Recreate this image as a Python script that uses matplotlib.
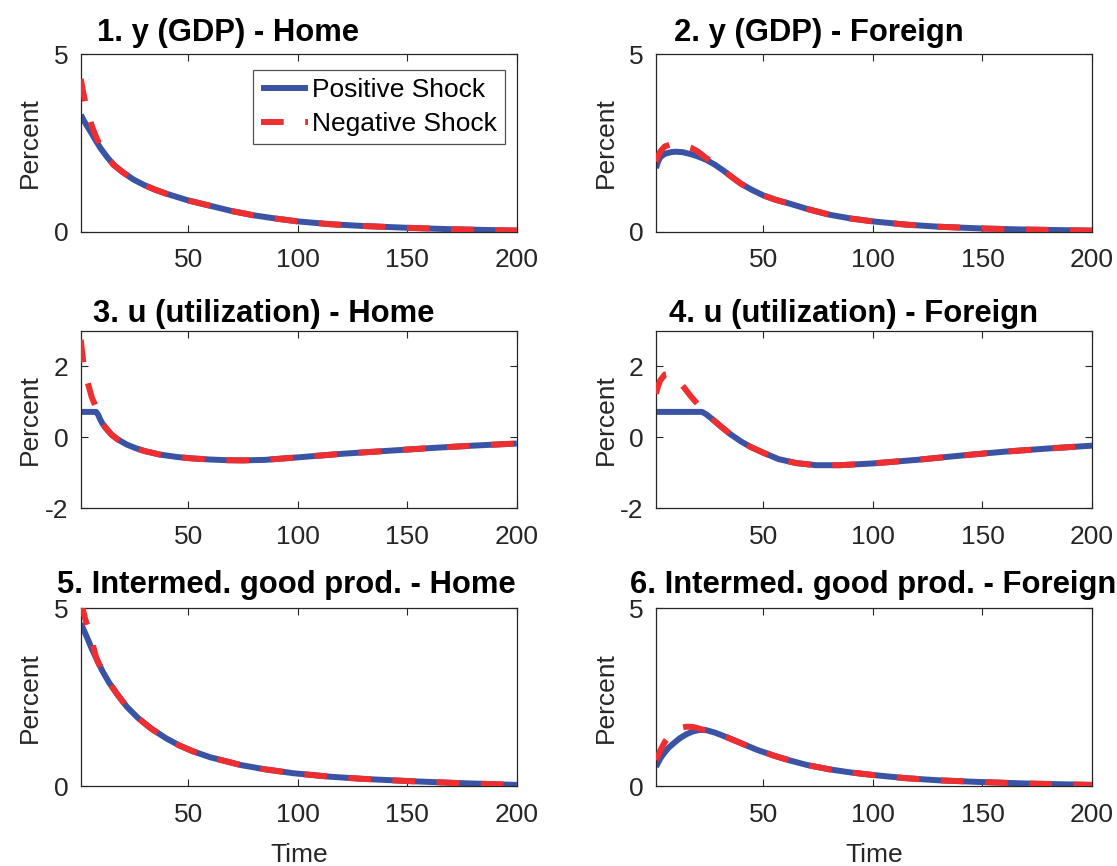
import matplotlib
matplotlib.use("Agg")
import matplotlib.pyplot as plt

plt.rcParams["font.family"] = ["Liberation Sans", "DejaVu Sans"]
plt.rcParams["axes.unicode_minus"] = False

BLUE = "#3a53a4"
RED = "#ee2e2f"

# ---- data ----
# 1. y (GDP) - Home
x1 = [1, 2, 3, 4, 6, 8, 10, 13, 16, 20, 25, 30, 35, 40, 50, 60, 70, 80, 90, 100, 115, 130, 150, 170, 185, 200]
pos1 = [3.29, 3.17, 3.06, 2.96, 2.76, 2.55, 2.35, 2.10, 1.88, 1.68, 1.47, 1.31, 1.18, 1.07, 0.88, 0.73, 0.58, 0.46, 0.37, 0.29, 0.21, 0.16, 0.11, 0.07, 0.05, 0.03]
neg1 = [4.30, 3.95, 3.66, 3.40, 2.98, 2.66, 2.40, 2.12, 1.88, 1.68, 1.47, 1.31, 1.18, 1.07, 0.88, 0.73, 0.58, 0.46, 0.37, 0.29, 0.21, 0.16, 0.11, 0.07, 0.05, 0.03]

# 2. y (GDP) - Foreign
x2 = [1, 2, 3, 5, 8, 10, 13, 17, 20, 24, 28, 32, 36, 40, 45, 50, 56, 62, 70, 80, 90, 100, 115, 130, 150, 170, 200]
pos2 = [1.79, 1.98, 2.10, 2.19, 2.24, 2.25, 2.24, 2.18, 2.12, 2.02, 1.88, 1.71, 1.52, 1.34, 1.17, 1.02, 0.89, 0.79, 0.64, 0.48, 0.37, 0.29, 0.20, 0.14, 0.09, 0.06, 0.03]
neg2 = [1.97, 2.13, 2.26, 2.40, 2.46, 2.46, 2.43, 2.36, 2.26, 2.07, 1.90, 1.71, 1.52, 1.34, 1.17, 1.02, 0.89, 0.79, 0.64, 0.48, 0.37, 0.29, 0.20, 0.14, 0.09, 0.06, 0.03]

# 3. u (utilization) - Home
x3 = [1, 2, 3, 4, 6, 8, 9, 10, 11, 12, 15, 18, 22, 26, 30, 37, 45, 52, 60, 68, 75, 85, 100, 120, 140, 160, 180, 200]
pos3 = [0.71, 0.71, 0.71, 0.71, 0.71, 0.71, 0.62, 0.48, 0.37, 0.28, 0.07, -0.07, -0.21, -0.31, -0.39, -0.49, -0.56, -0.60, -0.63, -0.65, -0.655, -0.64, -0.57, -0.47, -0.39, -0.31, -0.24, -0.18]
neg3 = [2.74, 2.18, 1.80, 1.57, 1.12, 0.83, 0.68, 0.52, 0.39, 0.29, 0.07, -0.07, -0.21, -0.31, -0.39, -0.49, -0.56, -0.60, -0.63, -0.65, -0.655, -0.64, -0.57, -0.47, -0.39, -0.31, -0.24, -0.18]

# 4. u (utilization) - Foreign
x4 = [1, 2, 3, 5, 7, 9, 11, 14, 17, 20, 22, 24, 27, 31, 35, 40, 44, 50, 57, 65, 74, 85, 100, 120, 140, 160, 180, 200]
pos4 = [0.71, 0.71, 0.71, 0.71, 0.71, 0.71, 0.71, 0.71, 0.71, 0.71, 0.71, 0.64, 0.49, 0.28, 0.08, -0.13, -0.27, -0.44, -0.62, -0.73, -0.79, -0.79, -0.74, -0.64, -0.52, -0.41, -0.32, -0.24]
neg4 = [1.22, 1.45, 1.60, 1.76, 1.78, 1.72, 1.60, 1.38, 1.14, 0.93, 0.79, 0.66, 0.49, 0.28, 0.08, -0.13, -0.27, -0.44, -0.62, -0.73, -0.79, -0.79, -0.74, -0.64, -0.52, -0.41, -0.32, -0.24]

# 5. Intermed. good prod. - Home
x5 = [1, 2, 3, 4.4, 6, 8, 9, 11, 14, 18, 22, 27, 33, 40, 46, 52, 60, 67, 74, 85, 98, 115, 130, 150, 170, 185, 200]
pos5 = [4.58, 4.44, 4.30, 4.10, 3.86, 3.60, 3.47, 3.22, 2.90, 2.55, 2.23, 1.92, 1.62, 1.34, 1.14, 0.98, 0.81, 0.70, 0.59, 0.47, 0.36, 0.26, 0.20, 0.14, 0.09, 0.06, 0.03]
neg5 = [5.15, 4.95, 4.70, 4.44, 4.08, 3.62, 3.47, 3.22, 2.90, 2.55, 2.23, 1.92, 1.62, 1.34, 1.14, 0.98, 0.81, 0.70, 0.59, 0.47, 0.36, 0.26, 0.20, 0.14, 0.09, 0.06, 0.03]

# 6. Intermed. good prod. - Foreign
x6 = [1, 3, 5, 7, 9, 12, 15, 18, 21, 24, 28, 33, 40, 47, 55, 62, 70, 80, 90, 100, 115, 130, 150, 170, 185, 200]
pos6 = [0.54, 0.78, 0.95, 1.09, 1.20, 1.35, 1.46, 1.54, 1.58, 1.57, 1.50, 1.38, 1.20, 1.02, 0.85, 0.72, 0.59, 0.47, 0.38, 0.31, 0.22, 0.16, 0.11, 0.07, 0.05, 0.03]
neg6 = [0.73, 1.00, 1.24, 1.40, 1.52, 1.63, 1.67, 1.66, 1.61, 1.56, 1.50, 1.38, 1.20, 1.02, 0.85, 0.72, 0.59, 0.47, 0.38, 0.31, 0.22, 0.16, 0.11, 0.07, 0.05, 0.03]

titles = ["1. y (GDP) - Home", "2. y (GDP) - Foreign",
          "3. u (utilization) - Home", "4. u (utilization) - Foreign",
          "5. Intermed. good prod. - Home", "6. Intermed. good prod. - Foreign"]
series = [(x1, pos1, neg1), (x2, pos2, neg2), (x3, pos3, neg3),
          (x4, pos4, neg4), (x5, pos5, neg5), (x6, pos6, neg6)]
ylims = [(0, 5), (0, 5), (-2, 3), (-2, 3), (0, 5), (0, 5)]
yticks = [[0, 5], [0, 5], [-2, 0, 2], [-2, 0, 2], [0, 5], [0, 5]]
xticks = [50, 100, 150, 200]

# ---- layout ----
W, H = 1117, 866
fig = plt.figure(figsize=(W / 100, H / 100), dpi=100)
lefts = [80.8, 656.0]
tops = [54.0, 330.5, 608.3]
aw, ah = 436.0, 177.7
title_x = [0.3375, 0.373, 0.420, 0.452, 0.4705, 0.498]
title_y = [1.073, 1.073, 1.05, 1.05, 1.085, 1.085]

for i in range(6):
    r, c = divmod(i, 2)
    ax = fig.add_axes([lefts[c] / W, 1 - (tops[r] + ah) / H, aw / W, ah / H])
    x, p, n = series[i]
    ax.plot(x, p, color=BLUE, lw=4.3, solid_capstyle="butt", label="Positive Shock", zorder=2)
    ax.plot(x, n, color=RED, lw=4.3, linestyle=(0, (3.8, 3.6)), label="Negative Shock", zorder=3)
    ax.set_xlim(1, 200)
    ax.set_ylim(*ylims[i])
    ax.set_xticks(xticks)
    ax.set_yticks(yticks[i])
    ax.tick_params(direction="in", length=5, width=0.8, top=True, right=True,
                   labelsize=19, colors="#262626")
    ax.tick_params(axis="x", pad=12)
    ax.tick_params(axis="y", pad=9)
    for s in ax.spines.values():
        s.set_color("#262626")
        s.set_linewidth(0.9)
    ax.set_ylabel("Percent", fontsize=19, color="#262626", va="center")
    ax.yaxis.set_label_coords(-0.116, 0.5)
    if r == 2:
        ax.set_xlabel("Time", fontsize=19, color="#262626", va="center")
        ax.xaxis.set_label_coords(0.5, -0.39)
    ax.text(title_x[i], title_y[i], titles[i], transform=ax.transAxes,
            ha="center", va="baseline", fontsize=22.3, fontweight="bold", clip_on=False)
    if i == 0:
        leg = ax.legend(loc="upper left", bbox_to_anchor=(0.394, 0.91), borderaxespad=0,
                        fontsize=19, frameon=True, fancybox=False, handlelength=1.8,
                        handletextpad=0.15, labelspacing=0.4, borderpad=0.3)
        leg.get_frame().set_edgecolor("#262626")
        leg.get_frame().set_linewidth(0.9)

fig.savefig("out.png", dpi=100)
